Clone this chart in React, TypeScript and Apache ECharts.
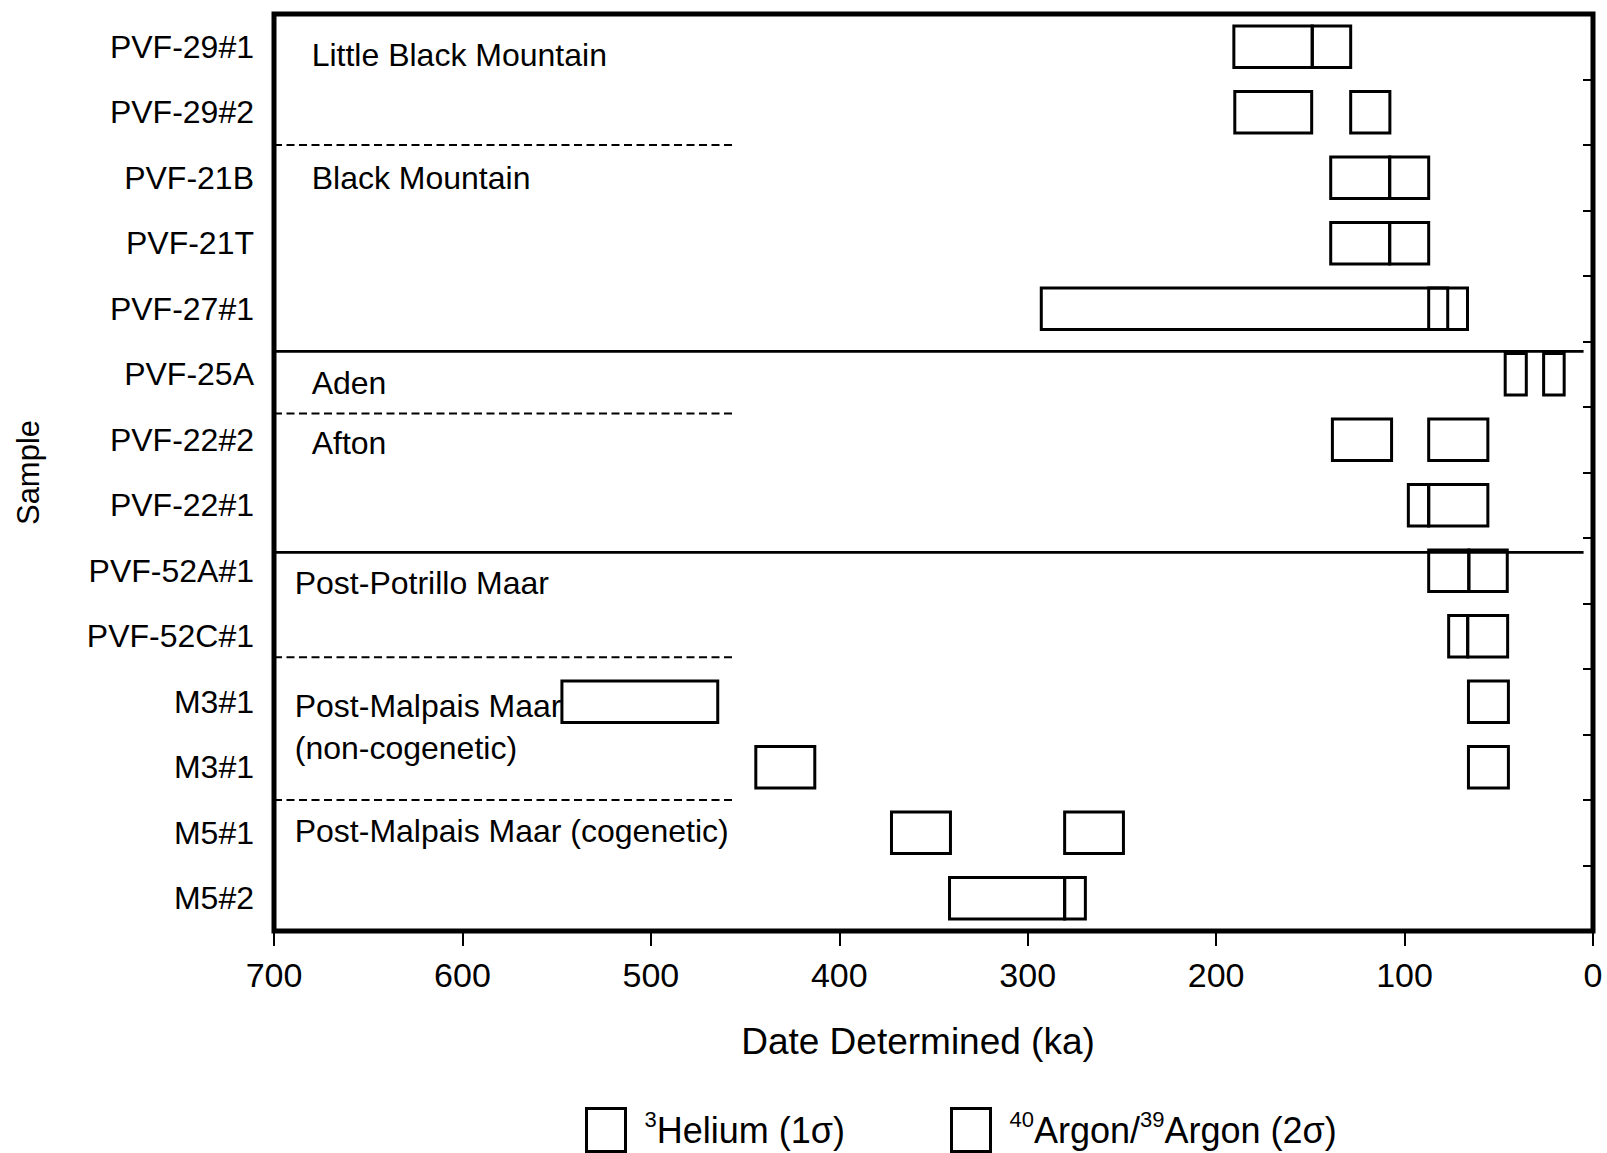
import { useEffect, useRef } from 'react';
import * as echarts from 'echarts';

// Sample names, top to bottom
const samples = [
  'PVF-29#1', 'PVF-29#2', 'PVF-21B', 'PVF-21T', 'PVF-27#1', 'PVF-25A', 'PVF-22#2',
  'PVF-22#1', 'PVF-52A#1', 'PVF-52C#1', 'M3#1', 'M3#1', 'M5#1', 'M5#2',
];

// 3He exposure ages (ka): older and younger bound of the 1σ range, per sample row
const heliumOlder = [149.0, 128.6, 107.9, 107.9, 87.2, 46.6, 138.3, 98.0, 65.9, 66.5, 66.1, 66.1, 372.3, 341.5];
const heliumYounger = [128.6, 107.8, 87.2, 87.2, 66.6, 35.4, 106.9, 87.2, 45.5, 45.3, 44.9, 44.9, 341.0, 280.4];

// 40Ar/39Ar ages (ka): older and younger bound of the 2σ range, per sample row
const argonOlder = [190.6, 190.1, 139.2, 139.2, 292.8, 26.2, 87.2, 87.2, 87.2, 76.6, 547.2, 444.3, 280.4, 280.4];
const argonYounger = [149.0, 149.3, 107.9, 107.9, 77.1, 15.3, 55.8, 55.8, 65.9, 66.5, 464.5, 413.0, 249.2, 269.4];

// Group separators: row position, dashed or solid, and the age where the line stops
const dividerRows = [1.5, 4.65, 5.6, 7.72, 9.32, 11.5];
const dividerDashed = [1, 0, 1, 0, 1, 1];
const dividerEndKa = [455, 5, 455, 5, 455, 455];

// Volcanic centre names and where they sit (age, row position)
const groupNames = [
  'Little Black Mountain',
  'Black Mountain',
  'Aden',
  'Afton',
  'Post-Potrillo Maar',
  'Post-Malpais Maar\n(non-cogenetic)',
  'Post-Malpais Maar (cogenetic)',
];
const groupKa = [680, 680, 680, 680, 689, 689, 689];
const groupRows = [0.12, 2.0, 5.13, 6.05, 8.19, 10.38, 11.98];

// Axis ticks
const ageMin = 0;
const ageMax = 700;
const ageStep = 100;

const SANS = "'Liberation Sans', Arial, Helvetica, sans-serif";

function rowY(api: any, pos: number): number {
  const i = Math.floor(pos);
  const a = api.coord([ageMax, i])[1];
  const b = api.coord([ageMax, i + 1])[1];
  return a + (pos - i) * (b - a);
}

function boxRenderer(params: any, api: any) {
  const row = api.value(0);
  const older = api.value(1);
  const younger = api.value(2);
  const p1 = api.coord([older, row]);
  const p2 = api.coord([younger, row]);
  const band = Math.abs(api.coord([ageMax, 1])[1] - api.coord([ageMax, 0])[1]);
  const h = band * 0.63;
  return {
    type: 'rect',
    shape: {
      x: Math.min(p1[0], p2[0]),
      y: p1[1] - h / 2,
      width: Math.abs(p2[0] - p1[0]),
      height: h,
    },
    style: { fill: 'none', stroke: '#000', lineWidth: 3 },
  };
}

export default function App() {
  const ref = useRef<HTMLDivElement>(null);

  useEffect(() => {
    if (!ref.current) return;
    const chart = echarts.init(ref.current, undefined, { renderer: 'svg' });

    const heliumData = samples.map((_, i) => [i, heliumOlder[i], heliumYounger[i]]);
    const argonData = samples.map((_, i) => [i, argonOlder[i], argonYounger[i]]);
    const dividerData = dividerRows.map((r, i) => [dividerEndKa[i], r, dividerDashed[i]]);
    const groupData = groupRows.map((r, i) => [groupKa[i], r]);

    const legendText = {
      fontFamily: SANS,
      fontSize: 36,
      color: '#000',
      rich: {
        g: { width: 14, lineHeight: 43 },
        sup: { fontFamily: SANS, fontSize: 22, lineHeight: 22, verticalAlign: 'top', color: '#000' },
        main: { fontFamily: SANS, fontSize: 36, lineHeight: 43, color: '#000' },
      },
    };
    const legendCommon = {
      top: 1107,
      padding: 0,
      itemWidth: 39,
      itemHeight: 43,
      selectedMode: false,
      icon: 'rect',
      itemStyle: { color: '#fff', borderColor: '#000', borderWidth: 3 },
      textStyle: legendText,
      formatter: (name: string) =>
        name === 'Helium'
          ? '{g|}{sup|3}{main|Helium (1σ)}'
          : '{g|}{sup|40}{main|Argon/}{sup|39}{main|Argon (2σ)}',
    };

    chart.setOption({
      animation: false,
      backgroundColor: '#fff',
      grid: {
        left: 274,
        right: 14,
        top: 14,
        bottom: 222,
        show: true,
        borderColor: '#000',
        borderWidth: 5,
        backgroundColor: 'transparent',
      },
      legend: [
        { ...legendCommon, left: 585, data: [{ name: 'Helium' }] },
        { ...legendCommon, left: 950, data: [{ name: 'Argon' }] },
      ],
      xAxis: {
        type: 'value',
        inverse: true,
        min: ageMin,
        max: ageMax,
        interval: ageStep,
        name: 'Date Determined (ka)',
        nameLocation: 'middle',
        nameGap: 92,
        nameTextStyle: { fontFamily: SANS, fontSize: 37, color: '#000', padding: [0, 31, 0, 0] },
        axisLine: { show: false },
        axisTick: { show: true, length: 15, lineStyle: { color: '#000', width: 2 } },
        axisLabel: { fontFamily: SANS, fontSize: 34, color: '#000', margin: 27 },
        splitLine: { show: false },
      },
      yAxis: [
        {
          type: 'category',
          data: samples,
          inverse: true,
          name: 'Sample',
          nameLocation: 'middle',
          nameGap: 230,
          nameTextStyle: { fontFamily: SANS, fontSize: 31, color: '#000' },
          axisLine: { show: false },
          axisTick: { show: false },
          axisLabel: { fontFamily: SANS, fontSize: 32, color: '#000', margin: 20, interval: 0 },
          splitLine: { show: false },
        },
        {
          type: 'category',
          data: samples,
          inverse: true,
          position: 'right',
          axisLine: { show: false },
          axisTick: { show: true, inside: true, length: 10, lineStyle: { color: '#000', width: 2 } },
          axisLabel: { show: false },
          splitLine: { show: false },
        },
      ],
      series: [
        {
          type: 'custom',
          name: 'Helium',
          coordinateSystem: 'cartesian2d',
          yAxisIndex: 0,
          itemStyle: { color: '#fff', borderColor: '#000' },
          encode: { y: 0, x: [1, 2] },
          renderItem: boxRenderer,
          data: heliumData,
          z: 3,
        },
        {
          type: 'custom',
          name: 'Argon',
          coordinateSystem: 'cartesian2d',
          yAxisIndex: 0,
          itemStyle: { color: '#fff', borderColor: '#000' },
          encode: { y: 0, x: [1, 2] },
          renderItem: boxRenderer,
          data: argonData,
          z: 3,
        },
        {
          type: 'custom',
          name: 'dividers',
          coordinateSystem: 'cartesian2d',
          yAxisIndex: 0,
          silent: true,
          dimensions: [
            { name: 'end', type: 'number' },
            { name: 'pos', type: 'number' },
            { name: 'dashed', type: 'number' },
          ],
          encode: { x: 0 },
          renderItem: (params: any, api: any) => {
            const end = api.value(0);
            const pos = api.value(1);
            const dashed = api.value(2) === 1;
            const y = rowY(api, pos);
            const x0 = api.coord([ageMax, 0])[0];
            const x1 = api.coord([end, 0])[0];
            return {
              type: 'line',
              shape: { x1: x0, y1: y, x2: x1, y2: y },
              style: {
                stroke: '#000',
                lineWidth: dashed ? 2 : 2.6,
                lineDash: dashed ? [8, 4.5] : null,
              },
            };
          },
          data: dividerData,
          z: 2,
        },
        {
          type: 'custom',
          name: 'groups',
          coordinateSystem: 'cartesian2d',
          yAxisIndex: 0,
          silent: true,
          dimensions: [
            { name: 'ka', type: 'number' },
            { name: 'pos', type: 'number' },
          ],
          encode: { x: 0 },
          renderItem: (params: any, api: any) => {
            const x = api.coord([api.value(0), 0])[0];
            const y = rowY(api, api.value(1));
            return {
              type: 'text',
              x,
              y,
              style: {
                text: groupNames[params.dataIndex],
                fontFamily: SANS,
                fontSize: 32,
                lineHeight: 42,
                fill: '#000',
                align: 'left',
                verticalAlign: 'middle',
              },
            };
          },
          data: groupData,
          z: 4,
        },
      ],
    });

    return () => chart.dispose();
  }, []);

  return (
    <div
      ref={ref}
      style={{ position: 'absolute', left: 0, top: 0, width: 1607, height: 1153, background: '#fff' }}
    />
  );
}
